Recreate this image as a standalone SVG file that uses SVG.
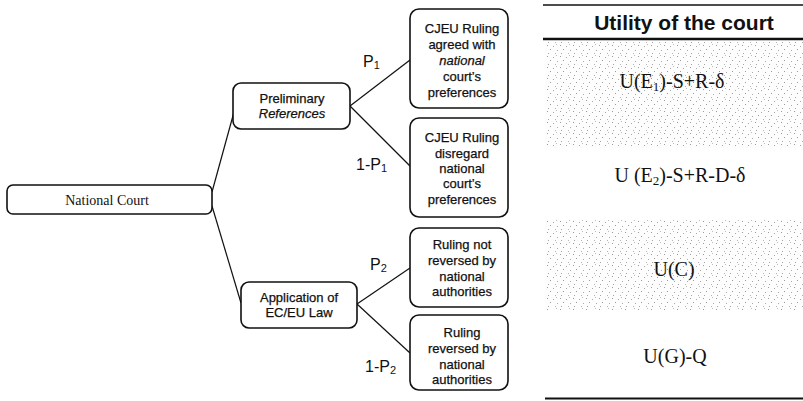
<svg xmlns="http://www.w3.org/2000/svg" width="803" height="401" viewBox="0 0 803 401">
<style>
.box{fill:#fff;stroke:#111;stroke-width:1.6}
.ln{stroke:#111;stroke-width:1.2;fill:none}
.sans{font-family:"Liberation Sans",Arial,sans-serif;fill:#111}
.serif{font-family:"Liberation Serif","Times New Roman",serif;fill:#111}
.bt{font-size:13px;text-anchor:middle;stroke:#111;stroke-width:0.25}
.lab{font-size:16px}
.util{font-size:20px;text-anchor:middle}
</style>
<defs>
<pattern id="stip" width="13" height="11" patternUnits="userSpaceOnUse">
<rect width="13" height="11" fill="#fdfdfd"/>
<rect x="1" y="1" width="1" height="1" fill="#9a9a9a"/>
<rect x="7" y="2" width="1" height="1" fill="#a8a8a8"/>
<rect x="4" y="5" width="1" height="1" fill="#999"/>
<rect x="11" y="6" width="1" height="1" fill="#aaa"/>
<rect x="2" y="9" width="1" height="1" fill="#a4a4a4"/>
<rect x="9" y="9" width="1" height="1" fill="#b4b4b4"/>
<rect x="10" y="0" width="1" height="1" fill="#bcbcbc"/>
</pattern>
</defs>
<rect width="803" height="401" fill="#fff"/>

<g id="utility-table">
<rect x="545" y="42" width="258" height="106" fill="url(#stip)"/>
<rect x="545" y="220" width="258" height="90" fill="url(#stip)"/>
<line x1="543" y1="5" x2="803" y2="5" stroke="#111" stroke-width="1.6"/>
<text class="sans" x="684" y="30" font-size="21" font-weight="bold" text-anchor="middle">Utility of the court</text>
<line x1="543" y1="39" x2="803" y2="39" stroke="#111" stroke-width="2.5"/>
<text class="serif util" x="672" y="88">U(E<tspan font-size="13" dy="3">1</tspan><tspan dy="-3">)-S+R-δ</tspan></text>
<text class="serif util" x="680" y="182">U (E<tspan font-size="13" dy="3">2</tspan><tspan dy="-3">)-S+R-D-δ</tspan></text>
<text class="serif util" x="674" y="276">U(C)</text>
<text class="serif util" x="675" y="363">U(G)-Q</text>
<line x1="545" y1="398.5" x2="803" y2="398.5" stroke="#111" stroke-width="2"/>
</g>

<g id="connectors">
<line class="ln" x1="212" y1="192" x2="234" y2="112"/>
<line class="ln" x1="212" y1="206" x2="241" y2="303"/>
<line class="ln" x1="350" y1="106" x2="410" y2="60"/>
<line class="ln" x1="350" y1="106" x2="410" y2="166"/>
<line class="ln" x1="357" y1="304" x2="410" y2="268"/>
<line class="ln" x1="357" y1="304" x2="410" y2="353"/>
<text class="sans lab" x="363" y="67">P<tspan font-size="11" dy="2">1</tspan></text>
<text class="sans lab" x="356" y="170">1-P<tspan font-size="11" dy="2">1</tspan></text>
<text class="sans lab" x="370" y="270">P<tspan font-size="11" dy="2">2</tspan></text>
<text class="sans lab" x="365" y="372">1-P<tspan font-size="11" dy="2">2</tspan></text>
</g>

<g id="national-court">
<rect class="box" x="7" y="185" width="205" height="29" rx="6"/>
<text class="serif" x="107" y="205" font-size="14" text-anchor="middle">National Court</text>
</g>

<g id="preliminary-references">
<rect class="box" x="233" y="83" width="117" height="46" rx="8"/>
<text class="sans bt" x="292" y="103">Preliminary</text>
<text class="sans bt" x="292" y="118" font-style="italic">References</text>
</g>

<g id="application-law">
<rect class="box" x="241" y="282" width="116" height="46" rx="8"/>
<text class="sans bt" x="299" y="302">Application of</text>
<text class="sans bt" x="299" y="317">EC/EU Law</text>
</g>

<g id="ruling-agreed">
<rect class="box" x="410" y="9" width="98" height="99" rx="9"/>
<text class="sans bt" x="462" y="33">CJEU Ruling</text>
<text class="sans bt" x="462" y="49">agreed with</text>
<text class="sans bt" x="462" y="65" font-style="italic">national</text>
<text class="sans bt" x="462" y="81">court’s</text>
<text class="sans bt" x="462" y="97">preferences</text>
</g>

<g id="ruling-disregard">
<rect class="box" x="410" y="118" width="98" height="99" rx="9"/>
<text class="sans bt" x="462" y="142">CJEU Ruling</text>
<text class="sans bt" x="462" y="158">disregard</text>
<text class="sans bt" x="462" y="173">national</text>
<text class="sans bt" x="462" y="188">court’s</text>
<text class="sans bt" x="462" y="204">preferences</text>
</g>

<g id="ruling-not-reversed">
<rect class="box" x="410" y="228" width="98" height="79" rx="9"/>
<text class="sans bt" x="462" y="249">Ruling not</text>
<text class="sans bt" x="462" y="265">reversed by</text>
<text class="sans bt" x="462" y="281">national</text>
<text class="sans bt" x="462" y="296">authorities</text>
</g>

<g id="ruling-reversed">
<rect class="box" x="410" y="315" width="98" height="75" rx="9"/>
<text class="sans bt" x="462" y="337">Ruling</text>
<text class="sans bt" x="462" y="353">reversed by</text>
<text class="sans bt" x="462" y="369">national</text>
<text class="sans bt" x="462" y="384">authorities</text>
</g>
</svg>
